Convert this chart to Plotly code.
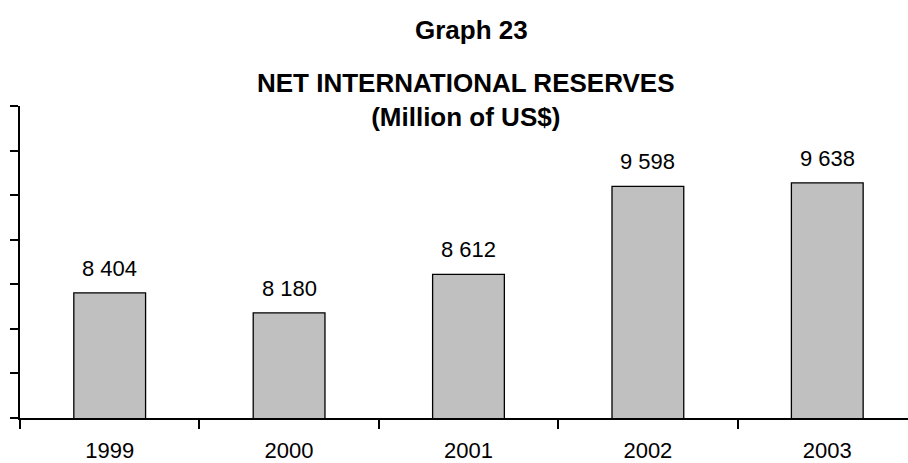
import plotly.graph_objects as go

years = ["1999", "2000", "2001", "2002", "2003"]
reserves = [8404, 8180, 8612, 9598, 9638]
chart_label = "Graph 23"
title_lines = ["NET INTERNATIONAL RESERVES", "(Million of US$)"]

FONT = "Liberation Sans, Arial, sans-serif"
W, H = 908, 463
ML, MT, MB = 20, 106, 42
plot_h = H - MT - MB
plot_w = W - ML

def px_to_paper_y(py):
    return (H - MB - py) / plot_h

def px_to_paper_x(px):
    return (px - ML) / plot_w

fig = go.Figure()
fig.add_trace(go.Bar(
    x=years, y=reserves, width=0.4,
    marker=dict(color="#c0c0c0", line=dict(color="black", width=1.3)),
    hoverinfo="skip",
))

annotations = []
for i, v in enumerate(reserves):
    annotations.append(dict(
        x=i, y=v, xref="x", yref="y", text=f"{v:,}".replace(",", " "),
        showarrow=False, xanchor="center", yanchor="bottom", yshift=10,
        font=dict(family=FONT, size=22, color="black"),
    ))
annotations.append(dict(
    x=px_to_paper_x(471), y=px_to_paper_y(29), xref="paper", yref="paper",
    text=f"<b>{chart_label}</b>", showarrow=False, xanchor="center", yanchor="middle",
    font=dict(family=FONT, size=26, color="black"),
))
annotations.append(dict(
    x=px_to_paper_x(466), y=px_to_paper_y(99.5), xref="paper", yref="paper",
    text="<br>".join(f"<b>{t}</b>" for t in title_lines), showarrow=False,
    xanchor="center", yanchor="middle",
    font=dict(family=FONT, size=26, color="black"),
))

fig.update_layout(
    width=W, height=H,
    margin=dict(l=ML, r=0, t=MT, b=MB, pad=0),
    paper_bgcolor="white", plot_bgcolor="white",
    showlegend=False,
    annotations=annotations,
    font=dict(family=FONT, size=22, color="black"),
)
fig.update_xaxes(
    type="category", range=[-0.5, 4.45],
    showline=True, linecolor="black", linewidth=1.5,
    ticks="outside", tickson="boundaries", ticklen=9, tickwidth=1.5, tickcolor="black",
    showgrid=False, zeroline=False,
    tickfont=dict(family=FONT, size=22, color="black"),
    ticklabelstandoff=12,
)
fig.update_yaxes(
    range=[7000, 10500], tick0=7000, dtick=500,
    showline=True, linecolor="black", linewidth=1.5,
    ticks="outside", ticklen=8, tickwidth=1.5, tickcolor="black",
    showticklabels=False, showgrid=False, zeroline=False,
)

fig.write_html("out.html", config={"displayModeBar": False})
